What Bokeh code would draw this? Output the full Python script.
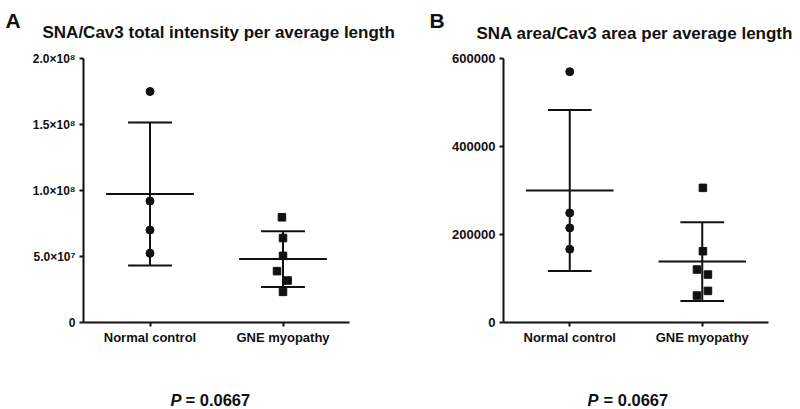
from bokeh.plotting import figure
from bokeh.layouts import row
from bokeh.models import Label, FixedTicker, Range1d
from bokeh.embed import file_html
from bokeh.resources import INLINE
import numpy as np

# ---------------- data ----------------
categories = ["Normal control", "GNE myopathy"]

a_normal = [1.75e8, 0.92e8, 0.70e8, 0.525e8]
a_gne = [0.797e8, 0.64e8, 0.505e8, 0.389e8, 0.318e8, 0.232e8]
a_gne_jitter = [-0.008, 0.0, 0.0, -0.045, 0.035, 0.0]
a_yticks = [0, 5e7, 1e8, 1.5e8, 2e8]
a_ytick_labels = ["0", "5.0×10⁷", "1.0×10⁸", "1.5×10⁸", "2.0×10⁸"]
a_ymax = 2e8

b_normal = [570000, 249000, 215000, 166600]
b_gne = [306000, 162000, 120400, 109000, 71800, 61300]
b_gne_jitter = [0.005, 0.005, -0.04, 0.043, 0.043, -0.04]
b_yticks = [0, 200000, 400000, 600000]
b_ytick_labels = ["0", "200000", "400000", "600000"]
b_ymax = 600000

titles = ["SNA/Cav3 total intensity per average length",
          "SNA area/Cav3 area per average length"]
panel_letters = ["A", "B"]
p_value = "0.0667"

FONT = "Liberation Sans"
INK = "#111111"
W, H = 400, 409
AX_TOP, AX_BOTTOM = 58, 322   # pixel rows of the y-axis ends


def make_panel(letter, title, normal, gne, jitter, yticks, ylabels, ymax,
               ax_left, ax_right, tick_size, letter_pos, title_pos, p_pos, eq_pos):
    # pixel -> data mapping (frame covers the whole canvas)
    ppx = (ax_right - ax_left) / 2.0          # pixels per category unit
    ppy = (AX_BOTTOM - AX_TOP) / ymax         # pixels per data unit

    def dx(cx):
        return 0.5 + (cx - ax_left) / ppx

    def dy(cy):
        return (AX_BOTTOM - cy) / ppy

    p = figure(width=W, height=H,
               x_range=Range1d(dx(0), dx(W)), y_range=Range1d(dy(H), dy(0)),
               toolbar_location=None, output_backend="svg", title=None,
               min_border=0, min_border_left=0, min_border_right=0,
               min_border_top=0, min_border_bottom=0)
    p.xgrid.visible = False
    p.ygrid.visible = False
    p.outline_line_color = None
    p.background_fill_color = "white"
    p.border_fill_color = "white"

    for ax in (p.xaxis[0], p.yaxis[0]):
        ax.axis_line_width = 2
        ax.axis_line_color = INK
        ax.major_tick_line_width = 2
        ax.major_tick_line_color = INK
        ax.major_tick_out = 4
        ax.major_tick_in = 0
        ax.minor_tick_line_color = None
        ax.major_label_text_font = FONT
        ax.major_label_text_font_style = "bold"
        ax.major_label_text_color = INK

    p.xaxis.fixed_location = 0
    p.xaxis.bounds = (0.5, 2.5)
    p.xaxis.ticker = FixedTicker(ticks=[1, 2])
    p.xaxis.major_label_overrides = {1: categories[0], 2: categories[1]}
    p.xaxis.major_label_text_font_size = "13px"
    p.xaxis.major_label_standoff = 3

    p.yaxis.fixed_location = 0.5
    p.yaxis.bounds = (0, ymax)
    p.yaxis.ticker = FixedTicker(ticks=yticks)
    p.yaxis.major_label_overrides = {t: l for t, l in zip(yticks, ylabels)}
    p.yaxis.major_label_text_font_size = tick_size
    p.yaxis.major_label_standoff = 4

    groups = [normal, gne]
    for i, vals in enumerate(groups):
        xc = i + 1
        m = float(np.mean(vals))
        sd = float(np.std(vals, ddof=1))
        p.segment(x0=[xc], y0=[m - sd], x1=[xc], y1=[m + sd],
                  line_color=INK, line_width=2)
        p.segment(x0=[xc - 0.33], y0=[m], x1=[xc + 0.33], y1=[m],
                  line_color=INK, line_width=2)
        p.segment(x0=[xc - 0.165, xc - 0.165], y0=[m - sd, m + sd],
                  x1=[xc + 0.165, xc + 0.165], y1=[m - sd, m + sd],
                  line_color=INK, line_width=2)

    p.scatter(x=[1] * len(normal), y=normal, marker="circle", size=8,
              fill_color=INK, line_color=INK)
    p.scatter(x=[2 + j for j in jitter], y=gne, marker="square", size=7.5,
              fill_color=INK, line_color=INK)

    def lab(text, pos, size, style="bold"):
        shift = 0.33 * size   # empirical baseline correction
        p.add_layout(Label(x=dx(pos[0]), y=dy(pos[1] - shift), text=text,
                           text_font=FONT, text_font_style=style,
                           text_font_size=f"{size}px", text_color=INK,
                           text_align="left", text_baseline="alphabetic"))

    lab(letter, letter_pos, 21)
    lab(title, title_pos, 17)
    lab("P", p_pos, 16.5, "bold italic")
    lab("= " + p_value, eq_pos, 16.5)
    return p


pa = make_panel(panel_letters[0], titles[0], a_normal, a_gne, a_gne_jitter,
                a_yticks, a_ytick_labels, a_ymax, 83, 349, "12px",
                (5, 26.7), (42, 37.5), (170, 405), (185, 405))
pb = make_panel(panel_letters[1], titles[1], b_normal, b_gne, b_gne_jitter,
                b_yticks, b_ytick_labels, b_ymax, 103, 368, "13px",
                (29, 26.7), (76, 39), (187, 405), (203, 405))

layout = row(pa, pb)
open("out.html", "w").write(file_html(layout, INLINE))
